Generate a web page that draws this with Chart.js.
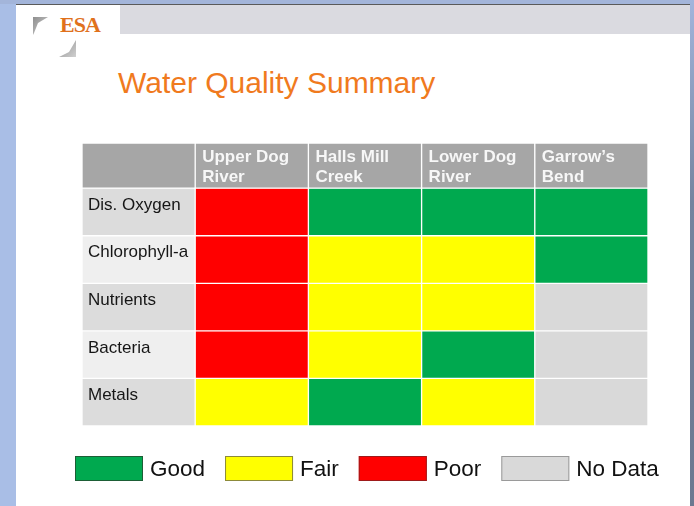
<!DOCTYPE html>
<html>
<head>
<meta charset="utf-8">
<title>Water Quality Summary</title>
<script src="https://cdn.jsdelivr.net/npm/chart.js@4.4.1/dist/chart.umd.min.js"></script>
<style>
  html, body { margin: 0; padding: 0; }
  body {
    width: 694px; height: 506px; position: relative; overflow: hidden;
    background: #a9bee6; font-family: Arial, "Liberation Sans", sans-serif;
  }
  .topband { position: absolute; left: 0; top: 0; width: 694px; height: 4px; background: #a3b5da; }
  .slide { position: absolute; left: 16px; top: 4px; width: 674px; height: 502px; background: #fff; border-top: 1px solid #5a5a5a; }
  .rightband { position: absolute; left: 690px; top: 0; width: 4px; height: 506px; background: linear-gradient(#a2b5dc, #75849f 40%, #6c7890); }
  .greybar { position: absolute; left: 120px; top: 5px; width: 570px; height: 29px; background: #dadae0; }
  .logo { position: absolute; left: 30px; top: 14px; }
  .esa {
    position: absolute; left: 60px; top: 12px; margin: 0;
    font: bold 22px/26px "Liberation Serif", "DejaVu Serif", serif;
    letter-spacing: -1px; color: #e0711c;
  }
  h1 {
    position: absolute; left: 118px; top: 68px; margin: 0;
    font: normal 30px/30px Arial, "Liberation Sans", sans-serif; color: #f07a1e;
  }
  canvas { position: absolute; left: 0; top: 0; }
</style>
</head>
<body>
<div class="topband"></div>
<div class="slide"></div>
<div class="rightband"></div>
<div class="greybar"></div>
<svg class="logo" width="50" height="46" viewBox="0 0 50 46">
  <defs>
    <linearGradient id="g1" x1="0" y1="0" x2="1" y2="1">
      <stop offset="0" stop-color="#8f8f8f"/>
      <stop offset="1" stop-color="#d0d0d0"/>
    </linearGradient>
  </defs>
  <polygon points="3,3 18,3 8,9 4,19 3,21" fill="url(#g1)"/>
  <polygon points="46,26 46,43 29,43 39,38" fill="url(#g1)"/>
</svg>
<div class="esa">ESA</div>
<h1>Water Quality Summary</h1>
<canvas id="chart" width="694" height="506"></canvas>

<script>
const sites = [['Upper Dog', 'River'], ['Halls Mill', 'Creek'], ['Lower Dog', 'River'], ['Garrow\u2019s', 'Bend']]
const parameters = ['Dis. Oxygen', 'Chlorophyll-a', 'Nutrients', 'Bacteria', 'Metals']

// rating per site, same order as sites
const disOxygen = ['Poor', 'Good', 'Good', 'Good']
const chlorophyllA = ['Poor', 'Fair', 'Fair', 'Good']
const nutrients = ['Poor', 'Fair', 'Fair', 'No Data']
const bacteria = ['Poor', 'Fair', 'Good', 'No Data']
const metals = ['Fair', 'Good', 'Fair', 'No Data']
const ratings = [disOxygen, chlorophyllA, nutrients, bacteria, metals]

const statusLabels = ['Good', 'Fair', 'Poor', 'No Data']
const statusColors = ['#00a94f', '#ffff00', '#ff0000', '#d9d9d9']
const statusBorders = ['#1d5e36', '#8c8a3a', '#9e1a1a', '#9a9a9a']

const headerGrey = '#a6a6a6'
const rowGreys = ['#dcdcdc', '#efefef']

const colorFor = (status) => statusColors[statusLabels.indexOf(status)]

// header row spans -0.95..0 on the reversed y scale, parameter rows r..r+1
const datasets = [{
    label: 'header',
    data: [null, ...sites].map(() => [-0.95, 0]),
    backgroundColor: headerGrey,
}]

parameters.forEach((name, r) => {
    datasets.push({
        label: name,
        data: [[r, r + 1], ...ratings[r].map(() => [r, r + 1])],
        backgroundColor: [rowGreys[r % 2], ...ratings[r].map(colorFor)],
    })
})

const cellBox = (bar) => ({
    left: bar.x - bar.width / 2,
    top: Math.min(bar.y, bar.base),
})

const tableText = {
    id: 'tableText',
    afterDatasetsDraw(chart) {
        const ctx = chart.ctx
        ctx.save()
        ctx.textBaseline = 'middle'
        ctx.textAlign = 'left'

        ctx.font = 'bold 17px Arial, "Liberation Sans", sans-serif'
        ctx.fillStyle = '#f7f7f7'
        const header = chart.getDatasetMeta(0).data
        sites.forEach((lines, i) => {
            const { left, top } = cellBox(header[i + 1])
            lines.forEach((t, j) => ctx.fillText(t, left + 7, top + 14 + j * 20))
        })

        ctx.font = '17px Arial, "Liberation Sans", sans-serif'
        ctx.fillStyle = '#161616'
        parameters.forEach((name, r) => {
            const { left, top } = cellBox(chart.getDatasetMeta(r + 1).data[0])
            ctx.fillText(name, left + 6, top + 17)
        })
        ctx.restore()
    },
}

const keyLegend = {
    id: 'keyLegend',
    afterDraw(chart) {
        const ctx = chart.ctx
        const boxW = 68, boxH = 25
        let x = 75
        const y = 456
        ctx.save()
        ctx.font = '22.5px Arial, "Liberation Sans", sans-serif'
        ctx.textBaseline = 'middle'
        statusLabels.forEach((label, i) => {
            ctx.fillStyle = statusColors[i]
            ctx.fillRect(x, y, boxW, boxH)
            ctx.strokeStyle = statusBorders[i]
            ctx.lineWidth = 1
            ctx.strokeRect(x + 0.5, y + 0.5, boxW - 1, boxH - 1)
            ctx.fillStyle = '#111'
            ctx.fillText(label, x + boxW + 7, y + boxH / 2 + 1)
            x += boxW + 7 + ctx.measureText(label).width + 20
        })
        ctx.restore()
    },
}

new Chart(document.getElementById('chart'), {
    type: 'bar',
    data: {
        labels: ['', ...sites.map((s) => s.join(' '))],
        datasets: datasets,
    },
    options: {
        responsive: false,
        animation: false,
        events: [],
        borderWidth: 1,
        borderColor: '#ffffff',
        borderSkipped: false,
        barPercentage: 1,
        categoryPercentage: 1,
        layout: { padding: { left: 82, right: 46, top: 143, bottom: 80 } },
        plugins: {
            legend: { display: false },
            tooltip: { enabled: false },
        },
        scales: {
            x: { stacked: true, display: false },
            y: { display: false, reverse: true, min: -0.95, max: 5 },
        },
    },
    plugins: [tableText, keyLegend],
})
</script>
</body>
</html>
